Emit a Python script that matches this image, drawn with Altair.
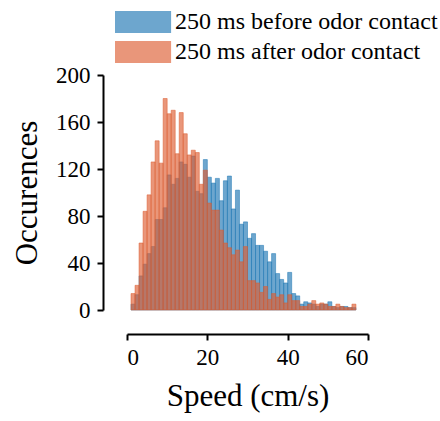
import altair as alt
import pandas as pd

bin_start = list(range(1, 57))
before = [5, 13, 29, 39, 48, 54, 77, 77, 87, 115,
          107, 112, 126, 124, 113, 131, 101, 99, 128, 113,
          108, 112, 93, 110, 114, 86, 102, 73, 75, 61,
          65, 55, 55, 50, 41, 48, 31, 26, 23, 32,
          14, 12, 5, 7, 6, 5, 3, 5, 5, 7,
          3, 2, 3, 3, 2, 2]
after = [14, 21, 57, 84, 98, 126, 144, 125, 180, 167,
         170, 133, 168, 150, 132, 136, 134, 107, 119, 91,
         85, 85, 68, 57, 53, 47, 51, 41, 54, 25,
         25, 23, 15, 20, 9, 14, 11, 13, 6, 13,
         8, 8, 3, 3, 5, 8, 5, 6, 5, 3,
         3, 5, 3, 2, 2, 5]
series_names = ["250 ms before odor contact", "250 ms after odor contact"]
colors = ["#1f77b4", "#dd5e33"]
x_ticks = [0, 20, 40, 60]
y_ticks = [0, 40, 80, 120, 160, 200]

rows = []
for name, vals in zip(series_names, [before, after]):
    for s, v in zip(bin_start, vals):
        rows.append({"series": name, "start": s, "end": s + 1, "count": v})
df = pd.DataFrame(rows)

FONT = "Liberation Serif"

chart = alt.Chart(df).mark_bar(
    fillOpacity=0.65, strokeOpacity=0.65, strokeWidth=0.8
).encode(
    x=alt.X("start:Q", scale=alt.Scale(domain=[0, 60], nice=False),
            axis=alt.Axis(values=x_ticks, title="Speed (cm/s)", offset=24,
                          grid=False, tickSize=6, labelPadding=6,
                          titlePadding=12, labelFont=FONT)),
    x2="end:Q",
    y=alt.Y("count:Q", stack=None, scale=alt.Scale(domain=[0, 200], nice=False),
            axis=alt.Axis(values=y_ticks, title="Occurences", offset=24,
                          grid=False, tickSize=6, labelPadding=7,
                          titlePadding=12, labelFont=FONT)),
    y2=alt.datum(0),
    color=alt.Color("series:N", scale=alt.Scale(domain=series_names, range=colors),
                    legend=alt.Legend(title=None, orient="none", legendX=-13, legendY=-65,
                                      symbolType="M-1,-1H4.1V1H-1Z", symbolSize=484,
                                      symbolOpacity=0.65, symbolStrokeWidth=0,
                                      labelOffset=37, rowPadding=6, padding=0,
                                      labelFont=FONT, labelFontSize=24,
                                      labelColor="black", labelLimit=400)),
    stroke=alt.Stroke("series:N", scale=alt.Scale(domain=series_names, range=colors),
                      legend=None),
).properties(
    width=241, height=235,
    autosize=alt.AutoSizeParams(type="none"),
    padding={"left": 127, "top": 75, "right": 72, "bottom": 111},
).configure(font=FONT).configure_view(stroke=None).configure_axis(
    domainColor="black", domainWidth=2, tickColor="black", tickWidth=2,
    labelFont=FONT, labelFontSize=23, labelColor="black",
    titleFont=FONT, titleFontSize=31, titleFontWeight="normal", titleColor="black",
)

chart.save("out.html", embed_options={"renderer": "svg", "actions": False})
